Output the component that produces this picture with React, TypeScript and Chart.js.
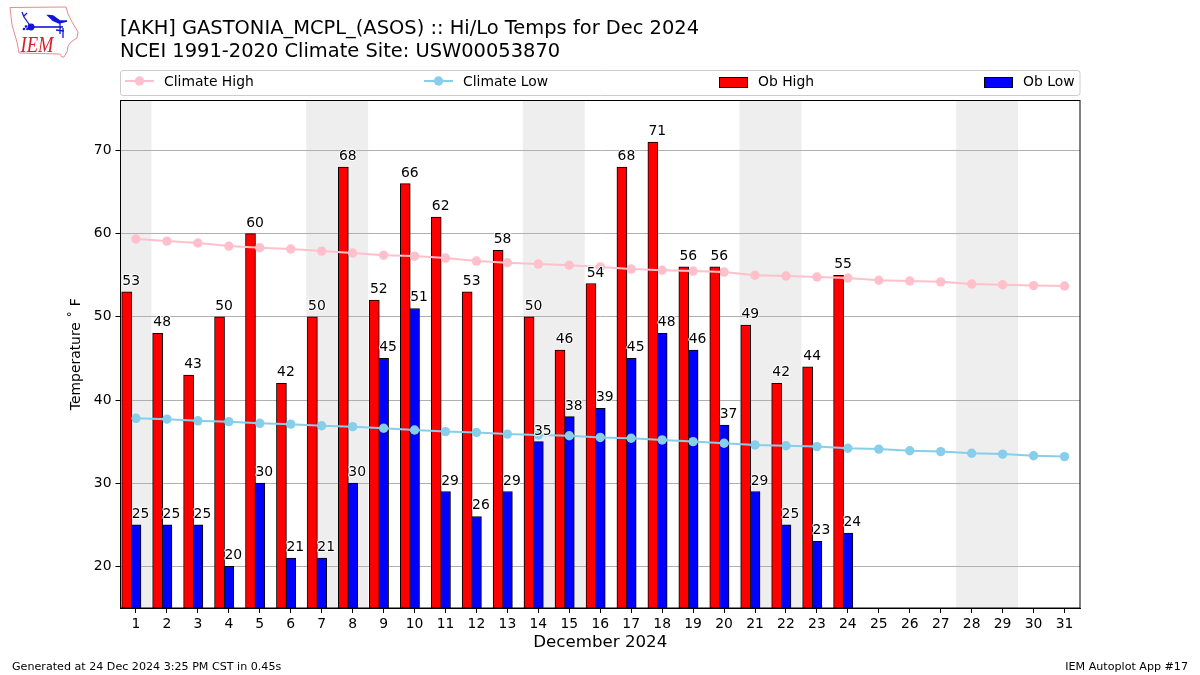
import React, { useEffect, useRef } from "react";
import { Chart, registerables } from "chart.js";

Chart.register(...registerables);

const FONT = '"DejaVu Sans"';
const titleLines = [
  "[AKH] GASTONIA_MCPL_(ASOS) :: Hi/Lo Temps for Dec 2024",
  "NCEI 1991-2020 Climate Site: USW00053870",
];
const footerLeft = "Generated at 24 Dec 2024 3:25 PM CST in 0.45s";
const footerRight = "IEM Autoplot App #17";
const days = [1, 2, 3, 4, 5, 6, 7, 8, 9, 10, 11, 12, 13, 14, 15, 16, 17, 18, 19, 20, 21, 22, 23, 24, 25, 26, 27, 28, 29, 30, 31];
const obHigh = [53, 48, 43, 50, 60, 42, 50, 68, 52, 66, 62, 53, 58, 50, 46, 54, 68, 71, 56, 56, 49, 42, 44, 55];
const obLow = [25, 25, 25, 20, 30, 21, 21, 30, 45, 51, 29, 26, 29, 35, 38, 39, 45, 48, 46, 37, 29, 25, 23, 24];
const climateHigh = [59.35, 59.1, 58.87, 58.5, 58.3, 58.15, 57.9, 57.67, 57.4, 57.3, 57.06, 56.7, 56.5, 56.34, 56.2, 56.0, 55.74, 55.6, 55.5, 55.38, 55.0, 54.9, 54.78, 54.66, 54.4, 54.3, 54.2, 53.95, 53.85, 53.75, 53.7];
const climateLow = [37.8, 37.7, 37.5, 37.4, 37.2, 37.1, 36.9, 36.8, 36.6, 36.4, 36.2, 36.1, 35.9, 35.8, 35.7, 35.5, 35.4, 35.2, 35.0, 34.8, 34.6, 34.5, 34.4, 34.2, 34.1, 33.9, 33.8, 33.6, 33.5, 33.3, 33.2];
const weekendBands = [[0.5, 1.5], [6.5, 8.5], [13.5, 15.5], [20.5, 22.5], [27.5, 29.5]];
const BAR_OFFSET = 0.3;

const pagePlugin = {
  id: "page",
  beforeDraw(chart: any) {
    const { ctx, chartArea: a, scales } = chart;
    ctx.save();
    ctx.fillStyle = "#eeeeee";
    ctx.beginPath();
    ctx.rect(a.left, a.top, a.right - a.left, a.bottom - a.top);
    ctx.clip();
    for (const [s, e] of weekendBands) {
      const x0 = scales.x.getPixelForValue(s);
      const x1 = scales.x.getPixelForValue(e);
      ctx.fillRect(x0, a.top, x1 - x0, a.bottom - a.top);
    }
    ctx.restore();
  },
  afterDatasetsDraw(chart: any) {
    const { ctx, scales } = chart;
    ctx.save();
    ctx.font = `13.9px ${FONT}`;
    ctx.textAlign = "center";
    ctx.textBaseline = "alphabetic";
    ctx.lineJoin = "round";
    const label = (v: number, x: number) => {
      const px = scales.x.getPixelForValue(x) + 4.5;
      const py = scales.y.getPixelForValue(v) - 7;
      ctx.strokeStyle = "#fff";
      ctx.lineWidth = 2;
      ctx.strokeText(String(v), px, py);
      ctx.fillStyle = "#000";
      ctx.fillText(String(v), px, py);
    };
    obHigh.forEach((v, i) => label(v, days[i] - BAR_OFFSET));
    obLow.forEach((v, i) => label(v, days[i]));
    ctx.restore();
  },
  afterDraw(chart: any) {
    const { ctx, chartArea: a, data } = chart;
    ctx.save();
    ctx.strokeStyle = "#000";
    ctx.lineWidth = 1;
    ctx.strokeRect(a.left, a.top, a.right - a.left, a.bottom - a.top);
    ctx.fillStyle = "#000";
    ctx.textBaseline = "alphabetic";
    ctx.textAlign = "left";
    ctx.font = `19.44px ${FONT}`;
    ctx.fillText(titleLines[0], 120, 34);
    ctx.fillText(titleLines[1], 120, 57);
    ctx.font = `11.11px ${FONT}`;
    ctx.fillText(footerLeft, 12, 670);
    ctx.textAlign = "right";
    ctx.fillText(footerRight, 1188, 670);
    ctx.textAlign = "left";
    ctx.strokeStyle = "#cccccc";
    ctx.beginPath();
    ctx.roundRect(120.5, 70.5, 959.5, 25, 2.5);
    ctx.stroke();
    ctx.font = `13.9px ${FONT}`;
    const slots = [125, 424, 719, 984];
    const byLabel = data.datasets.slice().sort((p: any, q: any) => p.legendRank - q.legendRank);
    byLabel.forEach((d: any, i: number) => {
      const x = slots[i];
      if (d.type === "line") {
        ctx.strokeStyle = d.borderColor;
        ctx.lineWidth = 2;
        ctx.beginPath();
        ctx.moveTo(x, 81);
        ctx.lineTo(x + 29, 81);
        ctx.stroke();
        ctx.fillStyle = d.pointBackgroundColor;
        ctx.beginPath();
        ctx.arc(x + 14.5, 81, 4.7, 0, Math.PI * 2);
        ctx.fill();
      } else {
        ctx.fillStyle = d.backgroundColor;
        ctx.fillRect(x + 0.5, 77.5, 28, 10);
        ctx.strokeStyle = "#000";
        ctx.lineWidth = 1;
        ctx.strokeRect(x + 0.5, 77.5, 28, 10);
      }
      ctx.fillStyle = "#000";
      ctx.fillText(d.label, x + 39, 86);
    });
    ctx.restore();
  },
};

function Logo() {
  return (
    <svg
      width={80}
      height={60}
      viewBox="0 0 80 60"
      style={{ position: "absolute", left: 0, top: 0, zIndex: 2 }}
    >
      <polygon
        points="10,7.5 66,7 68,14 72,22 78,32 77,38 71,42 68,46 67,52 64,57 62,57 60,54 19,53 17,42 12,25"
        fill="#fff"
        stroke="#e88a8a"
        strokeWidth={1}
      />
      <g stroke="#1414d8" fill="#1414d8" strokeWidth={1.3}>
        <line x1={31} y1={27} x2={63} y2={27} strokeWidth={1.6} />
        <line x1={31} y1={27} x2={24} y2={17} />
        <line x1={24} y1={17} x2={22} y2={12} />
        <line x1={24} y1={16} x2={27} y2={13} />
        <circle cx={31} cy={27} r={2.8} />
        <polygon points="48,15.5 53,16 60,21 67,21 59,23 53,20.5" />
        <line x1={60} y1={22} x2={60} y2={34} />
        <line x1={56} y1={30} x2={64} y2={31} />
        <line x1={63} y1={28} x2={63} y2={38} />
        <circle cx={24} cy={29} r={0.7} />
        <circle cx={26} cy={26.5} r={0.7} />
        <circle cx={27.5} cy={29} r={0.7} />
      </g>
      <text
        x={20.5}
        y={52}
        fontFamily='"Liberation Serif"'
        fontStyle="italic"
        fontSize={22.5}
        textLength={33}
        lengthAdjust="spacingAndGlyphs"
        fill="#d8202a"
      >
        IEM
      </text>
    </svg>
  );
}

export default function App() {
  const ref = useRef<HTMLCanvasElement | null>(null);
  useEffect(() => {
    const chart = new Chart(ref.current as HTMLCanvasElement, {
      type: "bar",
      plugins: [pagePlugin],
      data: {
        datasets: [
          {
            type: "line",
            label: "Climate High",
            legendRank: 0,
            order: 1,
            data: climateHigh.map((y, i) => ({ x: days[i], y })),
            borderColor: "#ffc0cb",
            backgroundColor: "#ffc0cb",
            pointBackgroundColor: "#ffc0cb",
            pointBorderWidth: 0,
            pointRadius: 4.7,
            borderWidth: 2,
          },
          {
            type: "line",
            label: "Climate Low",
            legendRank: 1,
            order: 1,
            data: climateLow.map((y, i) => ({ x: days[i], y })),
            borderColor: "#87ceeb",
            backgroundColor: "#87ceeb",
            pointBackgroundColor: "#87ceeb",
            pointBorderWidth: 0,
            pointRadius: 4.7,
            borderWidth: 2,
          },
          {
            type: "bar",
            label: "Ob High",
            legendRank: 2,
            order: 2,
            grouped: false,
            barThickness: 10,
            data: obHigh.map((y, i) => ({ x: days[i] - BAR_OFFSET, y })),
            backgroundColor: "#ff0000",
            borderColor: "#000",
            borderWidth: 1,
          },
          {
            type: "bar",
            label: "Ob Low",
            legendRank: 3,
            order: 2,
            grouped: false,
            barThickness: 10,
            data: obLow.map((y, i) => ({ x: days[i], y })),
            backgroundColor: "#0000ff",
            borderColor: "#000",
            borderWidth: 1,
          },
        ] as any,
      },
      options: {
        responsive: false,
        animation: false,
        devicePixelRatio: 1,
        layout: { padding: { left: 68, right: 120, top: 100.5, bottom: 22 } },
        plugins: { legend: { display: false }, title: { display: false }, tooltip: { enabled: false } },
        scales: {
          x: {
            type: "linear",
            offset: false,
            min: 0.5,
            max: 31.5,
            afterFit: (s: any) => { s.height = 45; },
            afterBuildTicks: (s: any) => { s.ticks = days.map((value) => ({ value })); },
            grid: { offset: false, drawOnChartArea: false, tickLength: 5, tickColor: "#000" },
            border: { color: "#000" },
            ticks: { autoSkip: false, maxRotation: 0, color: "#000", padding: 3, font: { family: FONT, size: 13.9 }, callback: (v: any) => String(v) },
            title: { display: true, text: "December 2024", color: "#000", padding: { top: 0, bottom: 0 }, font: { family: FONT, size: 16.67 } },
          },
          y: {
            min: 15,
            max: 76,
            afterFit: (s: any) => { s.width = 52.5; },
            grid: { color: "#b0b0b0", lineWidth: 1, tickLength: 5, tickColor: "#000" },
            border: { color: "#000" },
            ticks: { stepSize: 10, includeBounds: false, color: "#000", padding: 4, font: { family: FONT, size: 13.9 } },
            title: { display: true, text: "Temperature \u02DA F", color: "#000", padding: { top: 0, bottom: 0 }, font: { family: FONT, size: 13.9 } },
          },
        },
      } as any,
    });
    return () => chart.destroy();
  }, []);
  return (
    <div style={{ position: "fixed", left: 0, top: 0, width: 1200, height: 675, background: "#fff" }}>
      <canvas ref={ref} width={1200} height={675} style={{ display: "block" }} />
      <Logo />
    </div>
  );
}
